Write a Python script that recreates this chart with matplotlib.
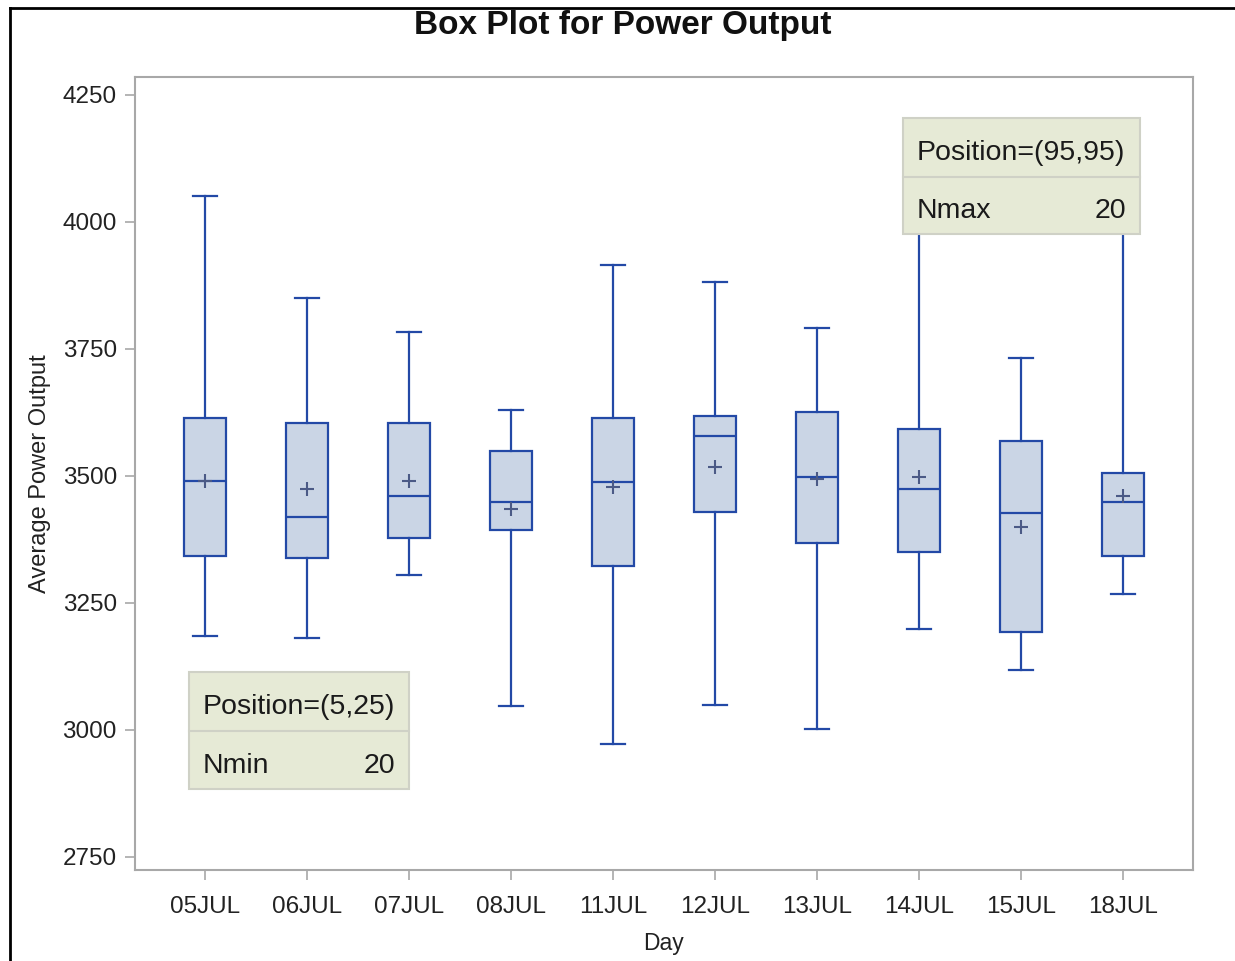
import matplotlib.pyplot as plt
from matplotlib.patches import Rectangle
from matplotlib.lines import Line2D

plt.rcParams["font.family"] = ["Liberation Sans", "DejaVu Sans"]

days = ["05JUL", "06JUL", "07JUL", "08JUL", "11JUL", "12JUL", "13JUL", "14JUL", "15JUL", "18JUL"]
whis_lo = [3185, 3181, 3305, 3047, 2972, 3049, 3002, 3199, 3118, 3268]
q1 = [3342, 3339, 3378, 3394, 3323, 3429, 3368, 3350, 3193, 3342]
median = [3490, 3419, 3461, 3449, 3488, 3579, 3498, 3474, 3427, 3449]
mean = [3489, 3474, 3490, 3435, 3478, 3518, 3494, 3498, 3400, 3461]
q3 = [3614, 3604, 3604, 3549, 3614, 3618, 3626, 3592, 3569, 3506]
whis_hi = [4051, 3850, 3783, 3630, 3915, 3882, 3791, 4100, 3732, 4120]

y_ticks = [2750, 3000, 3250, 3500, 3750, 4000, 4250]

EDGE = "#2349a6"
FILL = "#cad5e5"
MEAN_C = "#4b5a86"
INSET_FILL = "#e6ead6"
INSET_EDGE = "#cfd1c6"
SPINE = "#a8a8a8"


def draw_inset(ax, x0, y0, x1, y1, ymid, title, label, value):
    ax.add_patch(Rectangle((x0, y0), x1 - x0, y1 - y0, transform=ax.transAxes,
                           facecolor=INSET_FILL, edgecolor=INSET_EDGE, lw=1.5,
                           zorder=10, clip_on=False))
    ax.add_line(Line2D([x0, x1], [ymid, ymid], transform=ax.transAxes,
                       color=INSET_EDGE, lw=1.5, zorder=11))
    pad = 0.013
    shift = 0.007
    ax.text(x0 + pad, (ymid + y1) / 2 - shift, title, transform=ax.transAxes,
            ha="left", va="center", fontsize=20.5, color="#1a1a1a", zorder=12)
    ax.text(x0 + pad, (ymid + y0) / 2 - shift, label, transform=ax.transAxes,
            ha="left", va="center", fontsize=20.5, color="#1a1a1a", zorder=12)
    ax.text(x1 - pad, (ymid + y0) / 2 - shift, value, transform=ax.transAxes,
            ha="right", va="center", fontsize=20.5, color="#1a1a1a", zorder=12)


def main():
    fig = plt.figure(figsize=(12.35, 9.61), dpi=100)
    ax = fig.add_axes([0.1093, 0.0947, 0.8567, 0.8252])

    stats = []
    for i, d in enumerate(days):
        stats.append({
            "label": d,
            "whislo": whis_lo[i],
            "q1": q1[i],
            "med": median[i],
            "mean": mean[i],
            "q3": q3[i],
            "whishi": whis_hi[i],
            "fliers": [],
        })

    ax.bxp(stats, positions=range(len(days)), widths=0.41, capwidths=0.235,
           showmeans=True, patch_artist=True,
           boxprops=dict(facecolor=FILL, edgecolor=EDGE, lw=1.6),
           medianprops=dict(color=EDGE, lw=1.6),
           whiskerprops=dict(color=EDGE, lw=1.6),
           capprops=dict(color=EDGE, lw=1.6),
           meanprops=dict(marker="+", markersize=10, markeredgecolor=MEAN_C,
                          markeredgewidth=1.5))

    ax.set_xlim(-0.686, 9.686)
    ax.set_ylim(2724, 4285)
    ax.set_yticks(y_ticks)
    ax.set_xticks(range(len(days)))
    ax.set_xticklabels(days)

    for s in ax.spines.values():
        s.set_color(SPINE)
        s.set_linewidth(1.5)
    ax.tick_params(axis="both", direction="out", length=7, width=1.2,
                   color=SPINE, labelsize=17.5, labelcolor="#222222", pad=6)
    ax.tick_params(axis="x", pad=12)

    ax.set_xlabel("Day", fontsize=16.5, color="#222222", labelpad=10)
    ax.set_ylabel("Average Power Output", fontsize=17, color="#222222", labelpad=8)

    fig.text(0.504, 0.973, "Box Plot for Power Output", ha="center", va="center",
             fontsize=24, fontweight="bold", color="#111111")

    draw_inset(ax, 0.726, 0.802, 0.950, 0.948, 0.874, "Position=(95,95)", "Nmax", "20")
    draw_inset(ax, 0.051, 0.102, 0.259, 0.250, 0.175, "Position=(5,25)", "Nmin", "20")

    # screenshot frame along left and top edges
    fig.add_artist(Line2D([0.0085, 0.0085], [0.0, 0.9917], transform=fig.transFigure,
                          color="black", lw=2))
    fig.add_artist(Line2D([0.0085, 1.0], [0.9917, 0.9917], transform=fig.transFigure,
                          color="black", lw=2))

    fig.savefig("out.png", dpi=100)
    plt.close(fig)


if __name__ == "__main__":
    main()
